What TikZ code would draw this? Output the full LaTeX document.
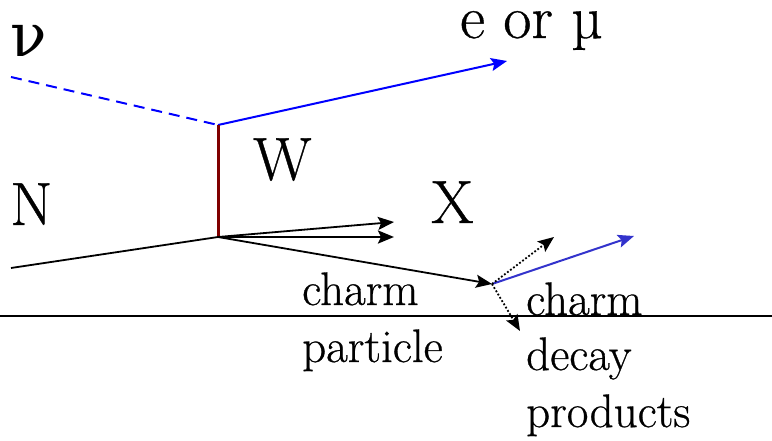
\documentclass[tikz,border=0pt]{standalone}
\usepackage{fontspec}
\setmainfont{Latin Modern Roman}[FakeBold=0.6]
\newfontfamily\grk{DejaVu Serif}
\usetikzlibrary{arrows.meta}
\definecolor{lblue}{RGB}{0,0,255}
\definecolor{dblue}{RGB}{51,51,204}
\definecolor{wred}{RGB}{128,0,0}
\begin{document}
\begin{tikzpicture}[x=1pt,y=-1pt,
  big/.style={anchor=base west,inner sep=0pt,font=\fontsize{61}{72}\selectfont},
  small/.style={anchor=base west,inner sep=0pt,font=\fontsize{47}{56}\selectfont},
  tip/.style={-{Stealth[length=16pt,width=13pt,inset=3pt]}},
  line/.style={line width=1.8pt}]
\useasboundingbox (0,0) rectangle (772,441);
% vertices
\coordinate (nuin) at (11,77);
\coordinate (top) at (218,125);
\coordinate (lep) at (507,61);
\coordinate (bot) at (218,237);
\coordinate (nin) at (11,268);
\coordinate (x1) at (394,222);
\coordinate (x2) at (394,237);
\coordinate (dec) at (492,284);
\coordinate (d1) at (634,236);
\coordinate (d2) at (554,237);
\coordinate (d3) at (520,331);
\coordinate (hl) at (0,316);
\coordinate (hr) at (772,316);
% lines
\draw[line width=1.3pt] (hl) -- (hr);
\draw[lblue,line width=2pt,dash pattern=on 11pt off 7pt] (nuin) -- (top);
\draw[lblue,line width=2pt,tip] (top) -- (lep);
\draw[wred,line width=3pt] (top) -- (bot);
\draw[line] (nin) -- (bot);
\draw[line,tip] (bot) -- (x1);
\draw[line width=2.6pt,tip] (bot) -- (x2);
\draw[line,tip] (bot) -- (dec);
\draw[dblue,line width=2pt,tip] (dec) -- (d1);
\draw[line width=1.8pt,dotted,tip] (dec) -- (d2);
\draw[line width=1.8pt,dotted,tip] (dec) -- (d3);
% labels
\node[big] (nu) at (10,57) {{\grk\fontsize{60}{70}\selectfont ν}};
\node[big] (em) at (460,38) {e or µ};
\node[big] (W) at (253,180) {W};
\node[big] (N) at (10,225) {N};
\node[big] (X) at (431,223) {X};
\node[small] (cp1) at (302,305) {charm};
\node[small] (cp2) at (302,362) {particle};
\node[small] (cd1) at (526,315) {charm};
\node[small] (cd2) at (526,370) {decay};
\node[small] (cd3) at (526,427) {products};
\end{tikzpicture}
\end{document}
